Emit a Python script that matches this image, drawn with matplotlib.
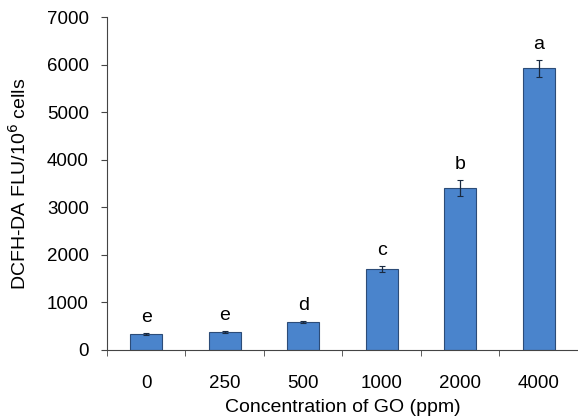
import numpy as np
import matplotlib.pyplot as plt

plt.rcParams['font.family'] = ['Liberation Sans', 'DejaVu Sans']

conc   = ['0', '250', '500', '1000', '2000', '4000']
flu    = [330, 380, 590, 1700, 3410, 5920]
err    = [20, 15, 15, 70, 170, 170]
groups = ['e', 'e', 'd', 'c', 'b', 'a']

fig = plt.figure(figsize=(5.78, 4.18), dpi=100)
ax = fig.add_axes([0.185, 0.163, 0.815, 0.796])

x = np.arange(len(conc))
ax.bar(x, flu, width=0.41, color='#4a84cc', edgecolor='#2c4c78', linewidth=0.8,
       yerr=err, error_kw=dict(ecolor='#1a2a40', elinewidth=0.9, capsize=2, capthick=0.8))

for xi, v, e, g in zip(x, flu, err, groups):
    ax.text(xi, v + e + 230, g, ha='center', va='baseline', fontsize=14)

ax.set_xlim(-0.5, 5.5)
ax.set_ylim(0, 7000)
ax.set_yticks(np.arange(0, 7001, 1000))
ax.set_xticks(x)
ax.set_xticklabels(conc)
ax.set_xticks(np.arange(-0.5, 5.6, 1), minor=True)
ax.tick_params(axis='x', which='major', length=0, pad=18, labelsize=13.5)
ax.tick_params(axis='x', which='minor', length=4, direction='out', color='#444444')
ax.tick_params(axis='y', length=4, direction='out', color='#444444', labelsize=13.5, pad=9)

for s in ['top', 'right']:
    ax.spines[s].set_visible(False)
for s in ['left', 'bottom']:
    ax.spines[s].set_color('#444444')

ax.set_xlabel('Concentration of GO (ppm)', fontsize=14, labelpad=5)
ax.set_ylabel(r'DCFH-DA FLU/10$^{6}$ cells', fontsize=14, labelpad=12)

fig.savefig('out.png', dpi=100)
